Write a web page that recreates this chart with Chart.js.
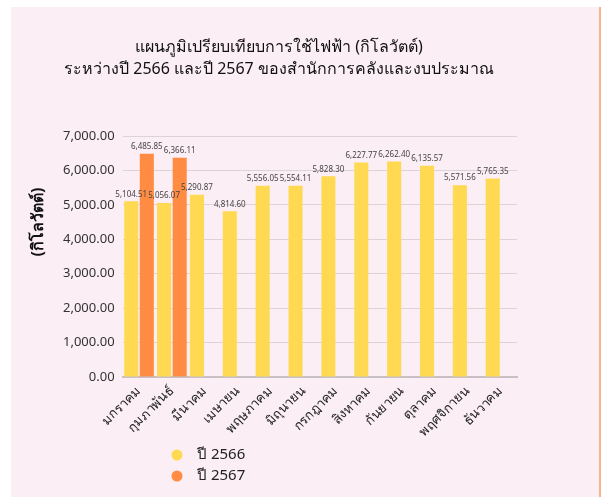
<!DOCTYPE html>
<html>
<head>
<meta charset="utf-8">
<script src="https://cdn.jsdelivr.net/npm/chart.js@4/dist/chart.umd.min.js"></script>
<style>
  html, body { margin: 0; padding: 0; background: #fff; }
  body { width: 601px; height: 497px; position: relative; overflow: hidden; }
  #panel { position: absolute; left: 11px; top: 7px; width: 588px; height: 490px; background: #fbeef4; }
  #edge { position: absolute; left: 599px; top: 7px; width: 2px; height: 490px; background: #f5b48f; }
  #wrap { position: absolute; left: 11px; top: 7px; width: 536px; height: 490px; }
</style>
</head>
<body>
<div id="panel"></div>
<div id="edge"></div>
<div id="wrap"><canvas id="chart"></canvas></div>
<script>
const months = ['มกราคม', 'กุมภาพันธ์', 'มีนาคม', 'เมษายน', 'พฤษภาคม', 'มิถุนายน', 'กรกฎาคม', 'สิงหาคม', 'กันยายน', 'ตุลาคม', 'พฤศจิกายน', 'ธันวาคม'];
const year2566 = [5104.51, 5056.07, 5290.87, 4814.60, 5556.05, 5554.11, 5828.30, 6227.77, 6262.40, 6135.57, 5571.56, 5765.35];
const year2567 = [6485.85, 6366.11, null, null, null, null, null, null, null, null, null, null];
const seriesNames = ['ปี 2566', 'ปี 2567'];
const seriesColors = ['#ffd952', '#ff8c42'];
const titleLines = ['แผนภูมิเปรียบเทียบการใช้ไฟฟ้า (กิโลวัตต์)', 'ระหว่างปี 2566 และปี 2567 ของสำนักการคลังและงบประมาณ'];
const yTitle = '(กิโลวัตต์)';

const FONT = "'Noto Sans', 'DejaVu Sans', sans-serif";
Chart.defaults.font.family = FONT;
Chart.defaults.color = '#333';

function money(v) {
    return v.toLocaleString('en-US', { minimumFractionDigits: 2, maximumFractionDigits: 2 });
}

// value labels above each bar
const barLabels = {
    id: 'barLabels',
    afterDatasetsDraw(chart) {
        const ctx = chart.ctx;
        ctx.save();
        ctx.font = '8px ' + FONT;
        ctx.fillStyle = '#444';
        ctx.textAlign = 'center';
        ctx.textBaseline = 'bottom';
        chart.data.datasets.forEach((ds, i) => {
            chart.getDatasetMeta(i).data.forEach((bar, j) => {
                const v = ds.data[j];
                if (v == null) return;
                ctx.fillText(money(v), bar.x, bar.y - 3);
            });
        });
        ctx.restore();
    }
};

// titles + vertical legend, drawn where the original puts them
const decorations = {
    id: 'decorations',
    afterDraw(chart) {
        const ctx = chart.ctx;
        ctx.save();
        // main title, centred on the whole canvas
        ctx.font = '16px ' + FONT;
        ctx.fillStyle = '#111';
        ctx.textAlign = 'center';
        ctx.textBaseline = 'middle';
        titleLines.forEach((t, i) => ctx.fillText(t, chart.width / 2, 40 + i * 22));

        // y axis title
        ctx.save();
        ctx.translate(27, 215);
        ctx.rotate(-Math.PI / 2);
        ctx.font = 'bold 16px ' + FONT;
        ctx.fillText(yTitle, 0, 0);
        ctx.restore();

        // legend
        ctx.font = '15px ' + FONT;
        ctx.textAlign = 'left';
        chart.data.datasets.forEach((ds, i) => {
            const y = 448 + i * 21;
            ctx.fillStyle = ds.backgroundColor;
            ctx.beginPath();
            ctx.arc(166, y, 5.5, 0, Math.PI * 2);
            ctx.fill();
            ctx.fillStyle = '#222';
            ctx.fillText(ds.label, 186, y);
        });
        ctx.restore();
    }
};

new Chart(document.getElementById('chart'), {
    type: 'bar',
    plugins: [barLabels, decorations],
    data: {
        labels: months,
        datasets: [
            { label: seriesNames[0], data: year2566, backgroundColor: seriesColors[0] },
            { label: seriesNames[1], data: year2567, backgroundColor: seriesColors[1] },
        ]
    },
    options: {
        responsive: true,
        maintainAspectRatio: false,
        animation: false,
        layout: {
            padding: { top: 129, left: 44, right: 30, bottom: 51 }
        },
        datasets: {
            bar: {
                categoryPercentage: 0.95,
                barPercentage: 0.9,
            }
        },
        plugins: {
            legend: { display: false },
            tooltip: { enabled: false },
            title: { display: false },
        },
        scales: {
            x: {
                grid: { display: false, drawTicks: false },
                border: { color: '#c8c0c4', width: 2 },
                ticks: {
                    minRotation: 45,
                    maxRotation: 45,
                    padding: 6,
                    color: '#222',
                    font: { size: 13 },
                },
            },
            y: {
                min: 0,
                max: 7000,
                grid: { color: '#ddd3d7', drawTicks: false },
                border: { display: false },
                ticks: {
                    stepSize: 1000,
                    padding: 8,
                    color: '#333',
                    font: { size: 13 },
                    callback: function (value) {
                        return money(value);
                    },
                },
            },
        },
    },
});
</script>
</body>
</html>
